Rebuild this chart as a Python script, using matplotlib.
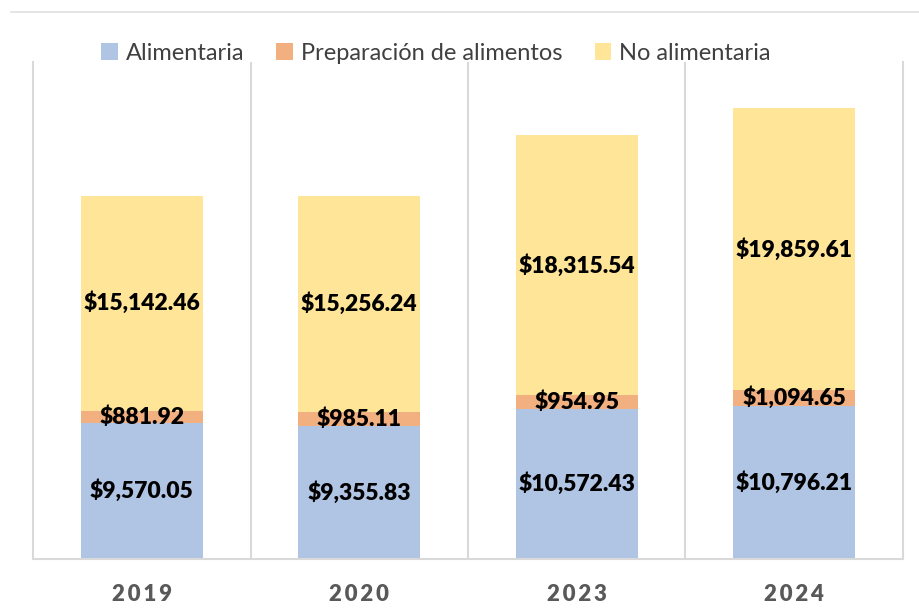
import matplotlib
matplotlib.use("Agg")
import matplotlib.pyplot as plt
from matplotlib.lines import Line2D
from matplotlib.patches import Patch
import numpy as np

plt.rcParams['font.family'] = ['Lato', 'DejaVu Sans']

# data
years = ['2019', '2020', '2023', '2024']
alimentaria = [9570.05, 9355.83, 10572.43, 10796.21]
preparacion = [881.92, 985.11, 954.95, 1094.65]
no_alimentaria = [15142.46, 15256.24, 18315.54, 19859.61]
series_names = ['Alimentaria', 'Preparación de alimentos', 'No alimentaria']
colors = ['#b0c4e4', '#f2b080', '#fee598']

fig = plt.figure(figsize=(9.2, 6.08), dpi=100)
ax = fig.add_axes([33/920, 1 - 559/608, 870/920, 497/608])

x = np.arange(len(years))
w = 0.56
bottom = np.zeros(len(years))
for vals, c in zip([alimentaria, preparacion, no_alimentaria], colors):
    vals = np.array(vals)
    ax.bar(x, vals, w, bottom=bottom, color=c, zorder=2)
    for xi, b, v in zip(x, bottom, vals):
        ax.text(xi, b + v / 2, '${:,.2f}'.format(v), ha='center', va='center',
                fontsize=16.5, fontweight='heavy', color='black', zorder=3)
    bottom += vals

ax.set_xlim(-0.5, len(years) - 0.5)
ax.set_ylim(0, 35000)
ax.set_yticks([])
ax.set_xticks(x)
ax.set_xticklabels(['\u2009'.join(y) for y in years], fontsize=16, fontweight='heavy', color='#595959')
ax.tick_params(axis='x', length=0, pad=18)

# category separators
for sep in x[:-1] + 0.5:
    ax.axvline(sep, color='#d9d9d9', lw=1.5, zorder=1)

for s in ['left', 'right', 'bottom']:
    ax.spines[s].set_color('#d9d9d9')
    ax.spines[s].set_linewidth(1.5)
ax.spines['top'].set_visible(False)

handles = [Patch(facecolor=c, edgecolor='none') for c in colors]
fig.legend(handles, series_names, loc='center', bbox_to_anchor=(436/920, 1 - 53/608),
           ncol=3, frameon=False, fontsize=17, handlelength=0.7, handleheight=0.7,
           handletextpad=0.35, columnspacing=1.35, labelcolor='#404040')

# top border line
fig.add_artist(Line2D([11/920, 1], [1 - 12/608, 1 - 12/608], color='#e0e0e0', lw=1.2))

fig.savefig('out.png', dpi=100)
